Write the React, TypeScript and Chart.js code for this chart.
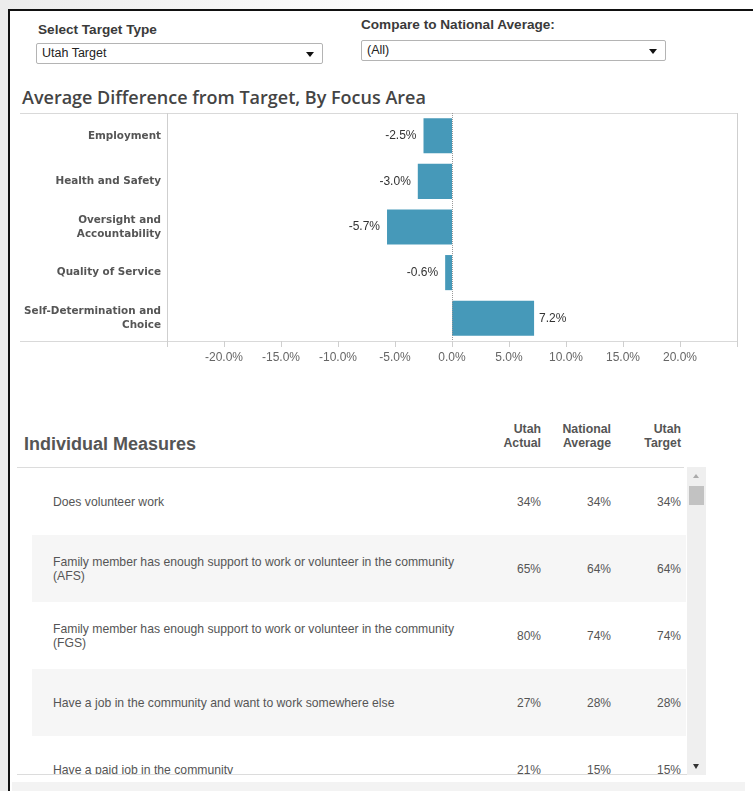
import React, { useEffect, useRef } from "react";
import { Chart, registerables } from "chart.js";

Chart.register(...registerables);

// ---- data ----
const focusAreas: string[][] = [
  ["Employment"],
  ["Health and Safety"],
  ["Oversight and", "Accountability"],
  ["Quality of Service"],
  ["Self-Determination and", "Choice"],
];
const avgDiffFromTarget: number[] = [-2.5, -3.0, -5.7, -0.6, 7.2];
const axisMin = -25;
const axisMax = 25;
const axisStep = 5;

const measureNames: string[] = [
  "Does volunteer work",
  "Family member has enough support to work or volunteer in the community (AFS)",
  "Family member has enough support to work or volunteer in the community (FGS)",
  "Have a job in the community and want to work somewhere else",
  "Have a paid job in the community",
];
const utahActual: number[] = [34, 65, 80, 27, 21];
const nationalAverage: number[] = [34, 64, 74, 28, 15];
const utahTarget: number[] = [34, 64, 74, 28, 15];

const BAR_COLOR = "#4699b9";
const arial = "Arial, 'Liberation Sans', sans-serif";

const framePlugin = {
  id: "frame",
  afterDatasetsDraw(chart: any) {
    const { ctx, chartArea } = chart;
    const xs = chart.scales.x;
    const { right, top, bottom } = chartArea;
    ctx.save();
    ctx.lineWidth = 1;
    ctx.strokeStyle = "#d9d9d9";
    ctx.beginPath();
    ctx.moveTo(8, Math.round(top) + 0.5);
    ctx.lineTo(right + 1, Math.round(top) + 0.5);
    ctx.moveTo(8, Math.round(bottom) + 0.5);
    ctx.lineTo(right + 1, Math.round(bottom) + 0.5);
    ctx.stroke();
    // tick marks and side borders
    ctx.strokeStyle = "#cfcfcf";
    ctx.beginPath();
    for (let v = axisMin; v <= axisMax; v += axisStep) {
      const px = Math.round(xs.getPixelForValue(v)) + 0.5;
      ctx.moveTo(px, v === axisMin || v === axisMax ? top : bottom);
      ctx.lineTo(px, bottom + 6);
    }
    ctx.stroke();
    // zero line dotted
    const zx = Math.round(xs.getPixelForValue(0)) + 0.5;
    ctx.strokeStyle = "#9a9a9a";
    ctx.setLineDash([1, 1]);
    ctx.beginPath();
    ctx.moveTo(zx, top);
    ctx.lineTo(zx, bottom);
    ctx.stroke();
    ctx.setLineDash([]);
    // value labels
    const meta = chart.getDatasetMeta(0);
    ctx.font = "12px Arial, 'Liberation Sans', sans-serif";
    ctx.fillStyle = "#333";
    ctx.textBaseline = "middle";
    meta.data.forEach((el: any, i: number) => {
      const v = avgDiffFromTarget[i];
      const txt = v.toFixed(1) + "%";
      if (v < 0) {
        ctx.textAlign = "right";
        ctx.fillText(txt, el.x - 7, el.y);
      } else {
        ctx.textAlign = "left";
        ctx.fillText(txt, el.x + 5, el.y);
      }
    });
    ctx.restore();
  },
};

function FocusChart() {
  const ref = useRef<HTMLCanvasElement | null>(null);
  useEffect(() => {
    if (!ref.current) return;
    const chart = new Chart(ref.current, {
      type: "bar",
      data: {
        labels: focusAreas as any,
        datasets: [
          {
            data: avgDiffFromTarget,
            backgroundColor: BAR_COLOR,
            borderWidth: 0,
            barPercentage: 0.77,
            categoryPercentage: 1,
          },
        ],
      },
      options: {
        indexAxis: "y",
        animation: false,
        responsive: false,
        maintainAspectRatio: false,
        layout: { padding: { top: 8, right: 10, bottom: 0, left: 0 } },
        plugins: { legend: { display: false }, tooltip: { enabled: false } },
        scales: {
          x: {
            type: "linear",
            min: axisMin,
            max: axisMax,
            grid: { display: false, drawTicks: false },
            border: { display: false },
            afterFit: (s: any) => {
              s.height = 30;
              s.paddingLeft = 0;
              s.paddingRight = 0;
            },
            ticks: {
              stepSize: axisStep,
              padding: 9,
              color: "#666",
              font: { family: arial, size: 12 },
              callback: (v: any) =>
                v === axisMin || v === axisMax ? "" : Number(v).toFixed(1) + "%",
            },
          },
          y: {
            grid: { display: false, drawTicks: false },
            border: { display: false },
            afterFit: (s: any) => {
              s.width = 155;
              s.paddingTop = 0;
              s.paddingBottom = 0;
            },
            ticks: {
              padding: 6,
              color: "#555",
              font: { family: "'DejaVu Sans', sans-serif", size: 10.4, weight: "bold", lineHeight: 1.35 },
            },
          },
        },
      },
      plugins: [framePlugin],
    });
    return () => chart.destroy();
  }, []);
  return (
    <canvas
      ref={ref}
      width={735}
      height={266}
      style={{ position: "absolute", left: 12, top: 105, width: 735, height: 266 }}
    />
  );
}

function Dropdown({ left, top, width, height, text }: any) {
  return (
    <div
      style={{
        position: "absolute",
        left,
        top,
        width,
        height,
        boxSizing: "border-box",
        border: "1px solid #b4b4b4",
        borderRadius: 2,
        background: "#fff",
        fontFamily: arial,
        fontSize: 12.5,
        color: "#222",
      }}
    >
      <span style={{ position: "absolute", left: 5, top: 2 }}>{text}</span>
      <span
        style={{
          position: "absolute",
          right: 8,
          top: 8,
          width: 0,
          height: 0,
          borderLeft: "4px solid transparent",
          borderRight: "4px solid transparent",
          borderTop: "5px solid #111",
        }}
      />
    </div>
  );
}

export default function App() {
  const rowH = 67;
  const valueX = [541, 611, 681];
  return (
    <div
      style={{
        position: "absolute",
        left: 0,
        top: 0,
        width: 753,
        height: 791,
        overflow: "hidden",
        background: "#fff",
        fontFamily: arial,
      }}
    >
      {/* outer frame */}
      <div style={{ position: "absolute", left: 0, top: 0, width: 753, height: 9, background: "linear-gradient(to right, #ececec, #ffffff 60%)" }} />
      <div style={{ position: "absolute", left: 0, top: 0, width: 8, height: 791, background: "#ececec" }} />
      <div style={{ position: "absolute", left: 8, top: 9, width: 745, height: 2, background: "#111" }} />
      <div style={{ position: "absolute", left: 8, top: 9, width: 2, height: 782, background: "#111" }} />

      {/* filters */}
      <div style={{ position: "absolute", left: 38, top: 22, fontSize: 13.6, fontWeight: "bold", color: "#3a3a3a", whiteSpace: "nowrap" }}>
        Select Target Type
      </div>
      <Dropdown left={36} top={43} width={287} height={21} text="Utah Target" />
      <div style={{ position: "absolute", left: 361, top: 17, fontSize: 13.6, fontWeight: "bold", color: "#3a3a3a", whiteSpace: "nowrap" }}>
        Compare to National Average:
      </div>
      <Dropdown left={361} top={40} width={305} height={21} text="(All)" />

      {/* chart title */}
      <div
        style={{
          position: "absolute",
          left: 22,
          top: 85,
          fontFamily: "'Open Sans', sans-serif",
          fontWeight: 600,
          fontSize: 18,
          lineHeight: "24px",
          color: "#444",
          whiteSpace: "nowrap",
        }}
      >
        Average Difference from Target, By Focus Area
      </div>

      <FocusChart />

      {/* Individual measures */}
      <div style={{ position: "absolute", left: 24, top: 434, fontSize: 18, lineHeight: "21px", fontWeight: "bold", color: "#555", whiteSpace: "nowrap" }}>
        Individual Measures
      </div>
      {[
        ["Utah", "Actual"],
        ["National", "Average"],
        ["Utah", "Target"],
      ].map((lines, i) => (
        <div
          key={i}
          style={{
            position: "absolute",
            right: 753 - valueX[i],
            top: 422,
            fontSize: 12.3,
            fontWeight: "bold",
            color: "#555",
            textAlign: "right",
            lineHeight: "14px",
            whiteSpace: "nowrap",
          }}
        >
          {lines[0]}
          <br />
          {lines[1]}
        </div>
      ))}
      <div style={{ position: "absolute", left: 17, top: 467, width: 667, height: 1, background: "#dcdcdc" }} />

      {/* rows */}
      <div style={{ position: "absolute", left: 0, top: 468, width: 753, height: 306, overflow: "hidden" }}>
        {measureNames.map((name, i) => {
          const vals = [utahActual[i], nationalAverage[i], utahTarget[i]];
          return (
            <div key={i} style={{ position: "absolute", left: 0, top: i * rowH, width: 753, height: rowH }}>
              {i % 2 === 1 && (
                <div style={{ position: "absolute", left: 32, top: 0, width: 654, height: rowH, background: "#f6f6f6" }} />
              )}
              <div
                style={{
                  position: "absolute",
                  left: 53,
                  top: 0,
                  width: 412,
                  height: rowH,
                  display: "flex",
                  alignItems: "center",
                  fontSize: 12.2,
                  color: "#555",
                  lineHeight: "14px",
                }}
              >
                <span>{name}</span>
              </div>
              {vals.map((v, j) => (
                <div
                  key={j}
                  style={{
                    position: "absolute",
                    right: 753 - valueX[j],
                    top: 0,
                    height: rowH,
                    display: "flex",
                    alignItems: "center",
                    fontSize: 12,
                    color: "#555",
                  }}
                >
                  {v}%
                </div>
              ))}
            </div>
          );
        })}
      </div>
      <div style={{ position: "absolute", left: 17, top: 774, width: 673, height: 1, background: "#dcdcdc" }} />

      {/* scrollbar */}
      <div style={{ position: "absolute", left: 687, top: 467, width: 19, height: 308, background: "#efefef" }} />
      <div style={{ position: "absolute", left: 689, top: 486, width: 15, height: 19, background: "#c2c2c2" }} />
      <div
        style={{
          position: "absolute",
          left: 693,
          top: 474,
          width: 0,
          height: 0,
          borderLeft: "3px solid transparent",
          borderRight: "3px solid transparent",
          borderBottom: "4px solid #aaa",
        }}
      />
      <div
        style={{
          position: "absolute",
          left: 693,
          top: 764,
          width: 0,
          height: 0,
          borderLeft: "3.5px solid transparent",
          borderRight: "3.5px solid transparent",
          borderTop: "5px solid #333",
        }}
      />
      <div style={{ position: "absolute", left: 12, top: 782, width: 733, height: 9, background: "#f3f3f3" }} />
    </div>
  );
}
